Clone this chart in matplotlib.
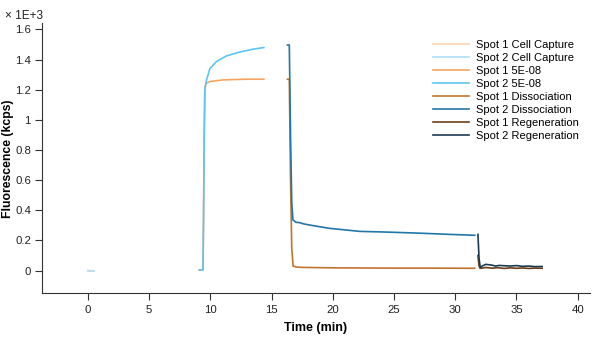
import matplotlib
matplotlib.use("Agg")
import matplotlib.pyplot as plt
from matplotlib.ticker import FuncFormatter

plt.rcParams['font.family'] = ['Liberation Sans', 'DejaVu Sans']

# series: (label, colour, times in min, values in kcps / 1000)
cap1_t = [0.0, 0.5]
cap1_y = [0.0, -0.002]
cap2_t = [0.0, 0.5]
cap2_y = [-0.002, -0.003]

assoc1_t = [9.1, 9.4, 9.45, 9.5, 9.55, 9.63, 10.0, 11.0, 12.0, 13.0, 14.37]
assoc1_y = [0.003, 0.005, 0.4, 0.9, 1.2, 1.243, 1.255, 1.265, 1.268, 1.27, 1.27]
assoc2_t = [9.1, 9.4, 9.45, 9.5, 9.55, 9.69, 9.96, 10.5, 11.3, 12.4, 13.47, 14.37]
assoc2_y = [0.003, 0.005, 0.4, 0.9, 1.2, 1.265, 1.34, 1.387, 1.424, 1.45, 1.469, 1.48]

diss1_t = [16.3, 16.45, 16.55, 16.65, 16.76, 17.0, 17.5, 20.0, 25.0, 28.0, 31.6]
diss1_y = [1.27, 1.27, 0.6, 0.15, 0.03, 0.024, 0.021, 0.018, 0.016, 0.016, 0.015]
diss2_t = [16.3, 16.45, 16.55, 16.65, 16.75, 17.0, 17.3, 17.6, 18.4, 19.75, 21.1, 22.2,
           24.1, 26.8, 29.55, 31.6]
diss2_y = [1.497, 1.497, 0.9, 0.45, 0.335, 0.32, 0.318, 0.31, 0.298, 0.28, 0.269, 0.26,
           0.256, 0.249, 0.24, 0.234]

regen1_t = [31.86, 31.95, 32.05, 32.5, 33.0, 33.5, 34.0, 34.5, 35.0, 35.5, 36.0, 36.5, 37.1]
regen1_y = [0.1, 0.03, 0.015, 0.02, 0.016, 0.019, 0.014, 0.018, 0.015, 0.017, 0.014, 0.016, 0.015]
regen2_t = [31.86, 31.95, 32.05, 32.2, 32.5, 33.0, 33.3, 33.6, 34.0, 34.5, 35.0, 35.5,
            36.0, 36.5, 37.1]
regen2_y = [0.24, 0.08, 0.019, 0.03, 0.041, 0.036, 0.03, 0.034, 0.032, 0.03, 0.033, 0.028,
            0.03, 0.026, 0.027]

labels = ["Spot 1 Cell Capture", "Spot 2 Cell Capture", "Spot 1 5E-08", "Spot 2 5E-08",
          "Spot 1 Dissociation", "Spot 2 Dissociation", "Spot 1 Regeneration",
          "Spot 2 Regeneration"]
colours = ["#fcd3b2", "#aee0f5", "#f5a462", "#5cc6f2", "#c0752f", "#2277a8", "#6e3f18", "#1d3b50"]
series = [(cap1_t, cap1_y), (cap2_t, cap2_y), (assoc1_t, assoc1_y), (assoc2_t, assoc2_y),
          (diss1_t, diss1_y), (diss2_t, diss2_y), (regen1_t, regen1_y), (regen2_t, regen2_y)]

fig = plt.figure(figsize=(6.02, 3.39), dpi=100)
ax = fig.add_axes([0.0698, 0.1348, 0.91, 0.7965])

for (t, y), lab, c in zip(series, labels, colours):
    ax.plot(t, y, color=c, lw=1.2, label=lab)

ax.set_xlim(-3.75, 41)
ax.set_ylim(-0.151, 1.641)
ax.set_xticks(range(0, 41, 5))
ax.set_yticks([0, 0.2, 0.4, 0.6, 0.8, 1.0, 1.2, 1.4, 1.6])
ax.yaxis.set_major_formatter(FuncFormatter(lambda v, p: "%g" % round(v, 1)))
for s in ["top", "right"]:
    ax.spines[s].set_visible(False)
for s in ["left", "bottom"]:
    ax.spines[s].set_color("#333333")
ax.tick_params(direction="out", length=5, width=0.8, colors="#333333", labelsize=8.2,
               labelcolor="#222222")
ax.tick_params(axis="y", pad=3)

ax.set_xlabel("Time (min)", fontsize=9, fontweight="bold", labelpad=5)
ax.set_ylabel("Fluorescence (kcps)", fontsize=8.8, fontweight="bold", va="center")
ax.yaxis.set_label_coords(-0.0625, 0.5)
fig.text(0.008, 0.952, "× 1E+3", fontsize=8.5, va="center", ha="left", color="#222222")

ax.legend(loc="upper left", bbox_to_anchor=(0.695, 0.975), frameon=False, fontsize=8,
          handlelength=3.3, labelspacing=0.27, handletextpad=0.6)

fig.savefig("out.png", dpi=100)
